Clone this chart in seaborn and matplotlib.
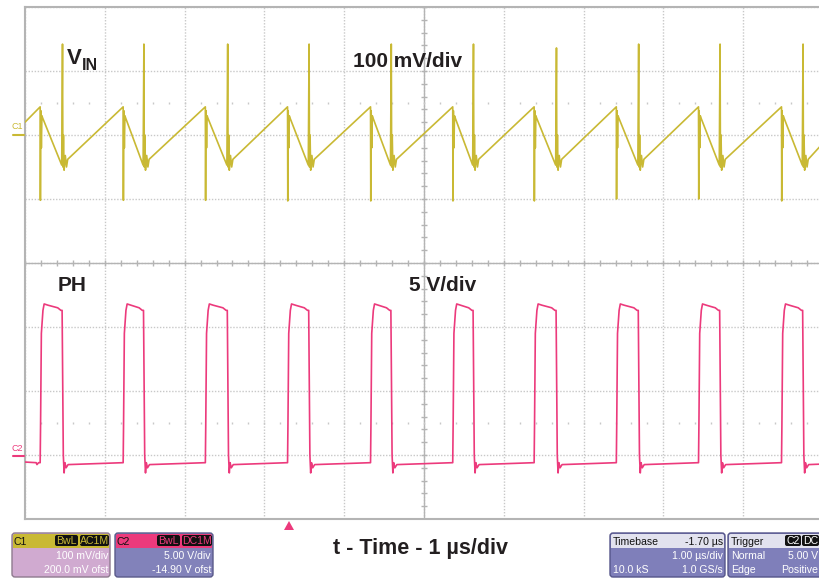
import numpy as np
import pandas as pd
import matplotlib
matplotlib.use("Agg")
import matplotlib.pyplot as plt
from matplotlib.patches import FancyBboxPatch, Rectangle, Polygon
import seaborn as sns

sns.set_style("white")
plt.rcParams['font.family'] = ['Liberation Sans', 'DejaVu Sans']

# --- waveform data (time in us, relative to trigger) ---
rise_us = [-3.11, -2.07, -1.04, -0.01, 1.03, 2.06, 3.08, 4.11, 5.14, 6.18]
fall_us = [-2.83, -1.81, -0.76, 0.26, 1.29, 2.32, 3.36, 4.39, 5.41, 6.45]

# C1: V_IN ripple in mV (relative to channel marker)
vin_peak_mv = 44
vin_trough_mv = -47
vin_spike_hi_mv = [142, 142, 142, 142, 142, 142, 136, 142, 142, 142]
vin_spike_lo_mv = [-102, -102, -102, -103, -103, -103, -103, -100, -100, -103]
vin_after_rise_dt = [0.008, 0.015, 0.022, 0.030]
vin_after_rise_mv = [38, -20, 30, 27]
vin_after_fall_dt = [0.005, 0.012, 0.020, 0.035, 0.050, 0.065]
vin_after_fall_mv = [-50, 0, -55, -32, -50, -38]
vin_start = (-3.30, 20)
vin_end = (6.72, -10)

# C2: PH node in V
ph_rise_dt = [0.0, 0.005, 0.015, 0.035, 0.05]
ph_rise_v = [-0.6, 2.3, 9.5, 11.3, 11.8]
ph_top_v = [11.7, 11.5, 11.3]
ph_fall_dt = [-0.005, 0.0, 0.01, 0.02, 0.03, 0.045, 0.07]
ph_fall_v = [11.3, 7.7, 0.0, -1.4, -0.6, -1.0, -0.75]
ph_start_t = [-3.30, -3.16, -3.15, -3.13]
ph_start_v = [-0.55, -0.6, -0.75, -0.6]
ph_end = (6.72, -0.7)

C1_MV_PER_DIV, C1_POS = 100, 2.0
C2_V_PER_DIV, C2_POS = 5, -3.0

# build traces
t, v = [vin_start[0]], [vin_start[1]]
for i, (r, f) in enumerate(zip(rise_us, fall_us)):
    t += [r, r + 0.003]
    v += [vin_peak_mv, vin_spike_lo_mv[i]]
    t += [r + d for d in vin_after_rise_dt]
    v += vin_after_rise_mv
    t += [f - 0.01, f]
    v += [vin_trough_mv, vin_spike_hi_mv[i]]
    t += [f + d for d in vin_after_fall_dt]
    v += vin_after_fall_mv
t.append(vin_end[0]); v.append(vin_end[1])
vin = pd.DataFrame({"t": t, "div": C1_POS + np.array(v) / C1_MV_PER_DIV})

t, v = list(ph_start_t), list(ph_start_v)
for r, f in zip(rise_us, fall_us):
    t += [r + d for d in ph_rise_dt]
    v += ph_rise_v
    t += [r + 0.10, f - 0.06, f - 0.02]
    v += ph_top_v
    t += [f + d for d in ph_fall_dt]
    v += ph_fall_v
t.append(ph_end[0]); v.append(ph_end[1])
ph = pd.DataFrame({"t": t, "div": C2_POS + np.array(v) / C2_V_PER_DIV})

C1_COLOR = "#c9b934"
C2_COLOR = "#ec3a7c"
GRID = "#c8c8c8"
FRAME = "#b4b4b4"
INK = "#231f20"

W, H = 820, 578
fig = plt.figure(figsize=(W / 100, H / 100), dpi=100)
ax = fig.add_axes([25 / W, 1 - 519 / H, 798 / W, 512 / H])
ax.set_xlim(-3.3, 6.7)
ax.set_ylim(-4, 4)
ax.set_xticks(np.arange(-3.3, 6.8, 1.0))
ax.set_yticks(np.arange(-4, 5, 1))
ax.grid(True, color=GRID, ls=(0, (1, 1.2)), lw=1.0)
ax.set_axisbelow(True)
ax.tick_params(length=0, labelbottom=False, labelleft=False)
for s in ["left", "top", "bottom"]:
    ax.spines[s].set_color(FRAME)
    ax.spines[s].set_linewidth(1.5)
ax.spines["right"].set_visible(False)

# centre cross with minor ticks
ax.axhline(0, color=FRAME, lw=1.0, zorder=1)
ax.axvline(1.7, color=FRAME, lw=1.0, zorder=1)
xs = np.arange(-3.3, 6.75, 0.2)
ax.vlines(xs, -0.05, 0.05, color=FRAME, lw=1.0, zorder=1)
ys = np.arange(-4, 4.01, 0.2)
ax.hlines(ys, 1.66, 1.74, color=FRAME, lw=1.0, zorder=1)
for yy in (2.5, -2.5):
    ax.vlines(xs, yy - 0.02, yy + 0.02, color=GRID, lw=1.0, zorder=1)

sns.lineplot(data=vin, x="t", y="div", estimator=None, sort=False,
             color=C1_COLOR, lw=1.2, ax=ax, zorder=3)
sns.lineplot(data=ph, x="t", y="div", estimator=None, sort=False,
             color=C2_COLOR, lw=1.2, ax=ax, zorder=3)
ax.set_xlabel("")
ax.set_ylabel("")

# overlay in pixel coordinates for labels and info boxes
ov = fig.add_axes([0, 0, 1, 1], zorder=5)
ov.set_xlim(0, W)
ov.set_ylim(H, 0)
ov.axis("off")
ov.patch.set_alpha(0)

ov.text(67, 64, "V", fontsize=16, fontweight="bold", color=INK, va="baseline")
ov.text(82, 70, "IN", fontsize=11.5, fontweight="bold", color=INK, va="baseline")
ov.text(353, 67, "100 mV/div", fontsize=15, fontweight="bold", color=INK, va="baseline")
ov.text(58, 291, "PH", fontsize=15, fontweight="bold", color=INK, va="baseline")
ov.text(409, 291, "5 V/div", fontsize=15, fontweight="bold", color=INK, va="baseline")
ov.text(333, 554, "t - Time - 1 \u00b5s/div", fontsize=15.5, fontweight="bold",
        color=INK, va="baseline")

# channel markers at left edge
ov.text(12, 129, "C1", fontsize=6.5, color=C1_COLOR, va="baseline")
ov.plot([13, 24], [135, 135], color=C1_COLOR, lw=1.5)
ov.text(12, 451, "C2", fontsize=6.5, color=C2_COLOR, va="baseline")
ov.plot([13, 24], [456, 456], color=C2_COLOR, lw=1.5)

# trigger position marker
ov.add_patch(Polygon([(284, 530), (294, 530), (289, 521)], closed=True,
                     color=C2_COLOR, lw=0))


def info_box(x0, x1, y0, y1, body, head, edge, head_h=14):
    ov.add_patch(FancyBboxPatch((x0, y0), x1 - x0, y1 - y0,
                                boxstyle="round,pad=0,rounding_size=3",
                                fc=body, ec=edge, lw=1.0))
    ov.add_patch(FancyBboxPatch((x0 + 1, y0 + 1), x1 - x0 - 2, head_h,
                                boxstyle="round,pad=0,rounding_size=2",
                                fc=head, ec="none"))
    ov.add_patch(Rectangle((x0 + 1, y0 + head_h - 3), x1 - x0 - 2, 4,
                           fc=head, ec="none"))


def tag(x0, x1, label, color, y0=535, y1=546):
    ov.add_patch(FancyBboxPatch((x0, y0), x1 - x0, y1 - y0,
                                boxstyle="round,pad=0,rounding_size=2",
                                fc="#111111", ec="none"))
    ov.text((x0 + x1) / 2, y1 - 2, label, fontsize=7.6, color=color,
            ha="center", va="baseline")


FS = 7.6
# C1 box
info_box(12, 110, 533, 577, "#d0aad0", C1_COLOR, "#8e7a8e")
ov.text(14, 545, "C1", fontsize=FS, color="#111111", va="baseline")
tag(55, 78, "BwL", C1_COLOR)
tag(80, 109, "AC1M", C1_COLOR)
ov.text(108, 559, "100 mV/div", fontsize=FS, color="white", ha="right", va="baseline")
ov.text(108, 573, "200.0 mV ofst", fontsize=FS, color="white", ha="right", va="baseline")

# C2 box
info_box(115, 213, 533, 577, "#8282ba", C2_COLOR, "#5a5a8a")
ov.text(117, 545, "C2", fontsize=FS, color="#111111", va="baseline")
tag(157, 180, "BwL", C2_COLOR)
tag(182, 212, "DC1M", C2_COLOR)
ov.text(211, 559, "5.00 V/div", fontsize=FS, color="white", ha="right", va="baseline")
ov.text(211, 573, "-14.90 V ofst", fontsize=FS, color="white", ha="right", va="baseline")

# Timebase box
info_box(610, 725, 533, 577, "#7f7fba", "#e2e2ee", "#55558a")
ov.text(613, 545, "Timebase", fontsize=FS, color="#111111", va="baseline")
ov.text(723, 545, "-1.70 \u00b5s", fontsize=FS, color="#111111", ha="right", va="baseline")
ov.text(723, 559, "1.00 \u00b5s/div", fontsize=FS, color="white", ha="right", va="baseline")
ov.text(613, 573, "10.0 kS", fontsize=FS, color="white", va="baseline")
ov.text(723, 573, "1.0 GS/s", fontsize=FS, color="white", ha="right", va="baseline")

# Trigger box (runs to the right edge)
info_box(728, 840, 533, 577, "#7f7fba", "#e2e2ee", "#55558a")
ov.text(731, 545, "Trigger", fontsize=FS, color="#111111", va="baseline")
tag(785, 801, "C2", "white")
tag(802, 819, "DC", "white")
ov.text(731, 559, "Normal", fontsize=FS, color="white", va="baseline")
ov.text(818, 559, "5.00 V", fontsize=FS, color="white", ha="right", va="baseline")
ov.text(731, 573, "Edge", fontsize=FS, color="white", va="baseline")
ov.text(818, 573, "Positive", fontsize=FS, color="white", ha="right", va="baseline")

fig.savefig("out.png", dpi=100)
